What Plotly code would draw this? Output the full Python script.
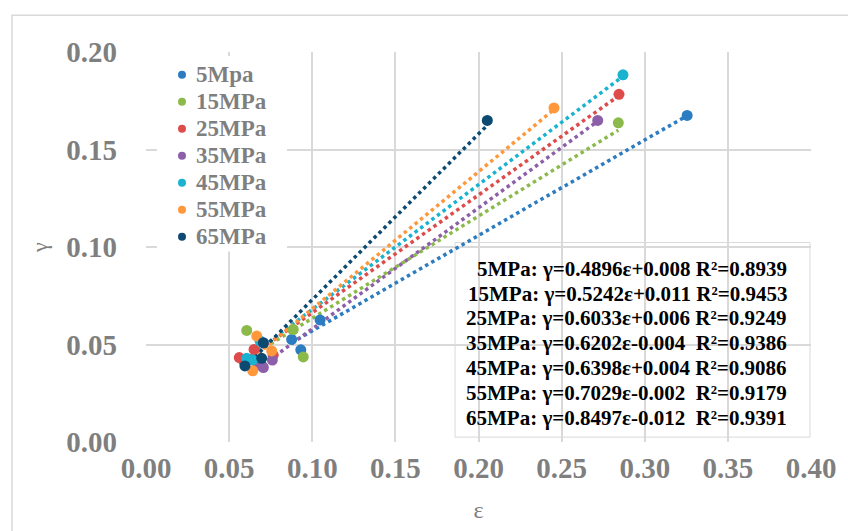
import plotly.graph_objects as go

series_names = ["5Mpa", "15MPa", "25MPa", "35MPa", "45MPa", "55MPa", "65MPa"]
colors = ["#2B7CC1", "#8BBA4A", "#DE4B4B", "#8D5FA9", "#19B2CF", "#FF973B", "#0D4A72"]

eps_5 = [0.0876, 0.0931, 0.1047, 0.3255]
gam_5 = [0.0526, 0.0473, 0.0626, 0.1675]
eps_15 = [0.0606, 0.0886, 0.0946, 0.2841]
gam_15 = [0.0572, 0.0577, 0.0436, 0.1637]
eps_25 = [0.0561, 0.0650, 0.0765, 0.2845]
gam_25 = [0.0433, 0.0475, 0.0445, 0.1783]
eps_35 = [0.0672, 0.0706, 0.0760, 0.2717]
gam_35 = [0.0395, 0.0382, 0.0420, 0.1649]
eps_45 = [0.0606, 0.0640, 0.0686, 0.2869]
gam_45 = [0.0429, 0.0420, 0.0518, 0.1883]
eps_55 = [0.0642, 0.0666, 0.0756, 0.2454]
gam_55 = [0.0365, 0.0543, 0.0467, 0.1713]
eps_65 = [0.0595, 0.0696, 0.0706, 0.2053]
gam_65 = [0.0390, 0.0429, 0.0509, 0.1649]

slopes = [0.4896, 0.5242, 0.6033, 0.6202, 0.6398, 0.7029, 0.8497]
intercepts = [0.008, 0.011, 0.006, -0.004, 0.004, -0.002, -0.012]
r2 = [0.8939, 0.9453, 0.9249, 0.9386, 0.9086, 0.9179, 0.9391]
eq_labels = ["5MPa", "15MPa", "25MPa", "35MPa", "45MPa", "55MPa", "65MPa"]

x_ticks = [0.00, 0.05, 0.10, 0.15, 0.20, 0.25, 0.30, 0.35, 0.40]
y_ticks = [0.00, 0.05, 0.10, 0.15, 0.20]

eps_all = [eps_5, eps_15, eps_25, eps_35, eps_45, eps_55, eps_65]
gam_all = [gam_5, gam_15, gam_25, gam_35, gam_45, gam_55, gam_65]

SERIF = "Liberation Serif"
GRAY = "#7F7F7F"
GRID = "#D9D9D9"

# plot-area pixel geometry (for placing legend/equation text in paper coords)
L, R, T, B = 146, 37, 52, 86
W, H = 848 - L - R, 531 - T - B


def px_x(p):
    return (p - L) / W


def px_y(p):
    return (531 - B - p) / H


fig = go.Figure()

# trendlines (linear fits from reported equations)
for i in range(len(series_names)):
    xs = [min(eps_all[i]), max(eps_all[i])]
    ys = [slopes[i] * v + intercepts[i] for v in xs]
    fig.add_trace(go.Scatter(x=xs, y=ys, mode="lines", showlegend=False, hoverinfo="skip",
                             line=dict(color=colors[i], width=3.5, dash="dot")))

for i in range(len(series_names)):
    fig.add_trace(go.Scatter(x=eps_all[i], y=gam_all[i], mode="markers", name=series_names[i],
                             showlegend=False,
                             marker=dict(color=colors[i], size=11, line=dict(width=0))))

# equation lines
for i in range(len(eq_labels)):
    sign = "+" if intercepts[i] >= 0 else "-"
    gap = " " if intercepts[i] >= 0 else "\u00a0\u00a0"
    txt = f"{eq_labels[i]}: γ={slopes[i]:.4f}ε{sign}{abs(intercepts[i]):.3f}{gap}R²={r2[i]:.4f}"
    fig.add_annotation(text=txt, xref="paper", yref="paper", x=px_x(789), y=px_y(270.5 + 25 * i),
                       xanchor="right", yanchor="middle", align="right", showarrow=False,
                       font=dict(family=SERIF, size=21, color="#000000", weight="bold"))

# white box behind equations
fig.add_shape(type="rect", xref="x", yref="y", x0=0.1859, x1=0.3994, y0=0.0025, y1=0.1023,
              fillcolor="white", line=dict(color=GRID, width=1), layer="below")
# outer chart border
fig.add_shape(type="rect", xref="paper", yref="paper", x0=px_x(12), x1=1.2, y0=-0.5, y1=px_y(15),
              line=dict(color=GRID, width=1.5), fillcolor="rgba(0,0,0,0)", layer="below")

# legend (drawn as box + marker circles + text)
fig.add_shape(type="rect", xref="paper", yref="paper", x0=px_x(157), x1=px_x(287),
              y0=px_y(253), y1=px_y(56), fillcolor="white", line=dict(width=0), layer="above")
for i in range(len(series_names)):
    yc = 75 + 27.2 * i
    fig.add_shape(type="circle", xref="paper", yref="paper", xsizemode="pixel", ysizemode="pixel",
                  xanchor=px_x(182), yanchor=px_y(yc), x0=-4, x1=4, y0=-4, y1=4,
                  fillcolor=colors[i], line=dict(width=0), layer="above")
    fig.add_annotation(text=series_names[i], xref="paper", yref="paper", x=px_x(194), y=px_y(yc),
                       xanchor="left", yanchor="middle", showarrow=False,
                       font=dict(family=SERIF, size=23, color=GRAY, weight="bold"))

fig.update_layout(
    width=848, height=531,
    margin=dict(l=L, r=R, t=T, b=B),
    paper_bgcolor="white", plot_bgcolor="white",
    showlegend=False,
    xaxis=dict(range=[0, 0.4], tickvals=x_ticks, tickformat=".2f", showgrid=True, gridcolor=GRID,
               gridwidth=2, zeroline=False, showline=False, ticks="", ticklabelstandoff=6,
               tickfont=dict(family=SERIF, size=29, color=GRAY, weight="bold"),
               title=dict(text="ε", font=dict(family=SERIF, size=24, color=GRAY), standoff=18)),
    yaxis=dict(range=[0, 0.2], tickvals=y_ticks, tickformat=".2f", showgrid=True, gridcolor=GRID,
               gridwidth=2, zeroline=False, showline=False, ticks="", ticklabelstandoff=28,
               tickfont=dict(family=SERIF, size=29, color=GRAY, weight="bold"),
               title=dict(text="γ", font=dict(family=SERIF, size=22, color=GRAY), standoff=12)),
)

fig.write_html("out.html")
